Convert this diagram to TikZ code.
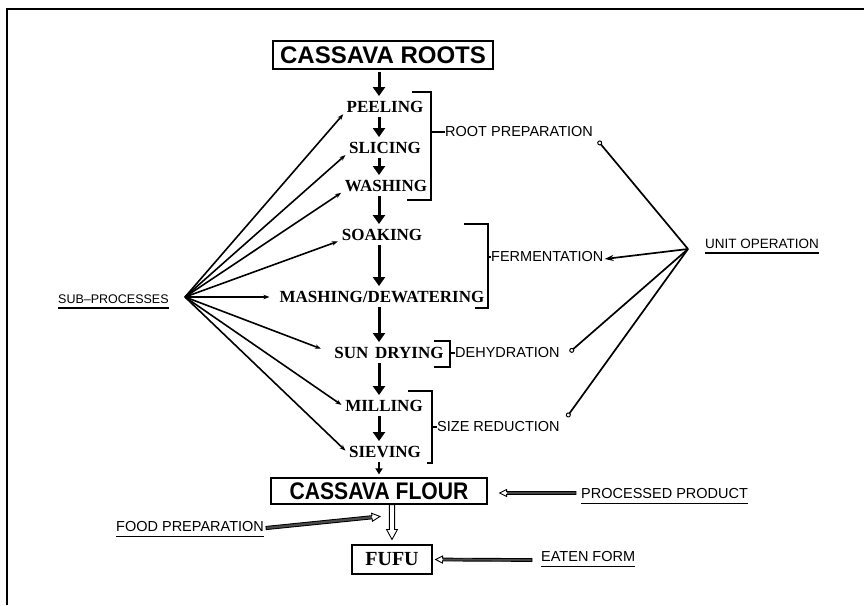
\documentclass[tikz,border=0pt]{standalone}
\usepackage{graphicx}
\usepackage{fontspec}
\setmainfont{Liberation Serif}
\newfontfamily\lsans{Liberation Sans}
\usetikzlibrary{arrows.meta,calc}
% hollow arrow: #1 shaft fill, #2 start, #3 tip, #4 shaft half width, #5 head half width, #6 head length
\newcommand\hollowarr[6]{%
  \path (#2) coordinate (hA) (#3) coordinate (hB);
  \path ($(hB)!#6!(hA)$) coordinate (hH);
  \fill[#1] ($(hA)!#4!90:(hB)$) -- ($(hH)!#4!90:(hB)$) -- ($(hH)!#4!-90:(hB)$) -- ($(hA)!#4!-90:(hB)$) -- cycle;
  \draw[hollowline] ($(hA)!#4!90:(hB)$) -- ($(hH)!#4!90:(hB)$) -- ($(hH)!#5!90:(hB)$) -- (hB)
     -- ($(hH)!#5!-90:(hB)$) -- ($(hH)!#4!-90:(hB)$) -- ($(hA)!#4!-90:(hB)$) -- cycle;}
\begin{document}
\begin{tikzpicture}[x=1pt,y=-1pt,
  proc/.style={font=\bfseries\fontsize{17}{20}\selectfont, inner sep=2pt, text height=11.5pt, text depth=0pt},
  lab/.style={font=\lsans\fontsize{14.5}{17}\selectfont, inner sep=0pt, anchor=west},
  bigbox/.style={draw, line width=1.2pt, inner sep=0pt, font=\lsans\bfseries\fontsize{24}{28}\selectfont},
  downarr/.style={line width=3pt, -{Triangle[length=9pt,width=12pt]}, shorten <=2pt, shorten >=3pt},
  fanarr/.style={line width=1.6pt, -{Stealth[length=6pt,width=4.5pt]}, shorten >=2pt},
  opline/.style={line width=1.7pt},
  circtip/.style={-{Circle[open,length=5pt,line width=1pt]}},
  brk/.style={line width=1.2pt},
  ul/.style={line width=1.6pt},
  hollowline/.style={line width=0.9pt, line join=miter},
]
\useasboundingbox (0,0) rectangle (864,605);
\draw[line width=1.4pt] (7,605) -- (7,9) -- (864,9);

% main boxes
\node[bigbox, minimum width=220pt, minimum height=28pt] (roots) at (383,55) {CASSAVA ROOTS};
\node[bigbox, minimum width=216pt, minimum height=26pt] (flour) at (379,491) {\scalebox{0.88}[1]{CASSAVA FLOUR}};
\node[draw, line width=1.1pt, minimum width=80pt, minimum height=29pt, inner sep=0pt,
      font=\bfseries\fontsize{20}{24}\selectfont] (fufu) at (392,559.5) {FUFU};

% processes
\node[proc] (peel) at (385,107) {PEELING};
\node[proc] (slic) at (385,148) {SLICING};
\node[proc] (wash) at (386,186) {WASHING};
\node[proc] (soak) at (382,235) {SOAKING};
\node[proc] (mash) at (382,297) {MASHING/DEWATERING};
\node[proc] (sun)  at (389,353) {SUN\hspace{0.4em}DRYING};
\node[proc] (mill) at (384,406) {MILLING};
\node[proc] (siev) at (385,452) {SIEVING};

% labels
\node[lab] (rootp) at (445,132) {ROOT PREPARATION};
\node[lab] (ferm)  at (491,257) {FERMENTATION};
\node[lab] (dehyd) at (455,353) {DEHYDRATION};
\node[lab] (sizer) at (437,427) {SIZE REDUCTION};
\node[lab, font=\lsans\fontsize{13.5}{16}\selectfont] (unit) at (705,244) {UNIT OPERATION};
\node[lab, font=\lsans\fontsize{12.5}{15}\selectfont] (sub) at (58,299) {SUB–PROCESSES};
\node[lab] (prod)  at (581,494) {PROCESSED PRODUCT};
\node[lab] (eaten) at (541,557) {EATEN FORM};
\node[lab] (food)  at (116,527) {FOOD PREPARATION};

% underlines
\foreach \n in {unit,sub,prod,eaten,food}
  \draw[ul] ([yshift=-4.5pt]\n.base west) -- ([yshift=-4.5pt]\n.base east);

% main chain
\coordinate (ax) at (379,0);
\draw[downarr] (roots.south -| ax) -- (peel.north -| ax);
\draw[downarr] (peel.south -| ax) -- (slic.north -| ax);
\draw[downarr] (slic.south -| ax) -- (wash.north -| ax);
\draw[downarr] (wash.south -| ax) -- (soak.north -| ax);
\draw[downarr] (soak.south -| ax) -- (mash.north -| ax);
\draw[downarr] (mash.south -| ax) -- (sun.north -| ax);
\draw[downarr] (sun.south -| ax) -- (mill.north -| ax);
\draw[downarr] (mill.south -| ax) -- (siev.north -| ax);
\draw[line width=1.8pt, -{Triangle[length=6pt,width=7pt]}, shorten <=2pt, shorten >=3pt]
  (siev.south -| ax) -- (flour.north -| ax);

% sub-process fan
\coordinate (sh) at (185,297);
\foreach \n in {peel,slic,wash,soak} \draw[fanarr] (sh) -- (\n.base west);
\draw[fanarr, shorten >=8pt] (sh) -- (mash.west);
\draw[fanarr, shorten >=12pt] (sh) -- (sun.west);
\draw[fanarr] (sh) -- (mill.west);
\draw[fanarr] (sh) -- (siev.west);

% brackets
\draw[brk] (412,92) -- (431,92) -- (431,200) -- (407,200);
\draw[brk] (431,132) -- (rootp.west);
\draw[brk] (464,224) -- (488,224) -- (488,308) -- (475,308);
\draw[brk] (488,257) -- (ferm.west);
\draw[brk] (434,341) -- (450,341) -- (450,367) -- (434,367);
\draw[brk] (450,353) -- (dehyd.west);
\draw[brk] (408,391) -- (432,391) -- (432,463) -- (427,463);
\draw[brk] (432,427) -- (sizer.west);

% unit operation fan
\coordinate (uh) at (688,249);
\draw[opline, circtip] (uh) -- ([shift={(5,9)}]rootp.east);
\draw[opline, -{Stealth[length=9pt,width=6pt]}] (uh) -- ([shift={(1,2)}]ferm.east);
\draw[opline, circtip] (uh) -- ([shift={(10,-1)}]dehyd.east);
\draw[opline, circtip] (uh) -- ([shift={(7,-10)}]sizer.east);

% hollow arrows
\hollowarr{white}{flour.south -| fufu.north}{$(fufu.north)+(0,-5)$}{2.6pt}{5.5pt}{10pt}
\hollowarr{black!70}{$(food.east)+(2,1)$}{$(fufu.north)+(-12,-28)$}{1.6pt}{4pt}{8pt}
\hollowarr{black!70}{$(prod.west)+(-5,-1)$}{$(flour.east)+(12,2)$}{1.4pt}{3.5pt}{7pt}
\hollowarr{black!70}{$(eaten.west)+(-9,3)$}{$(fufu.east)+(3,0)$}{1.4pt}{3.5pt}{7pt}
\end{tikzpicture}
\end{document}
